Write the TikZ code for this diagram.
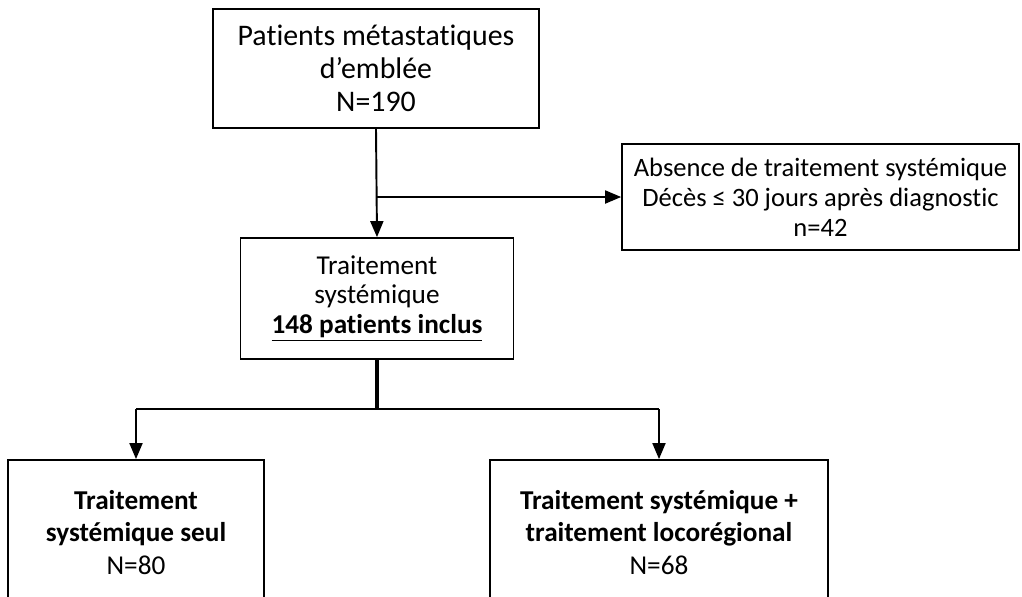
\documentclass[tikz,border=0pt]{standalone}
\usepackage{fontspec}
\setmainfont{Carlito}[Ligatures={NoCommon,NoContextual,NoRare}]
\usetikzlibrary{arrows,positioning}
\tikzset{
    %Define standard arrow tip
    >=triangle 45,
    %Define style for boxes
    flowbox/.style={
             rectangle,
             draw=black, line width=1.1pt,
             align=center,
             inner sep=0pt,
             font=\fontsize{15.5}{17}\selectfont},
    % Define arrow style
    flowarrow/.style={
            ->,
            line width=1.1pt},
    trunkline/.style={
            line width=1.8pt}
}
\begin{document}
\begin{tikzpicture}[x=0.02cm, y=-0.02cm]
 \clip (0,0) rectangle (1022,596);
 \node[flowbox, font=\fontsize{17}{18.6}\selectfont, minimum width=6.52cm, minimum height=2.38cm] (start) at (376,68.5)
      {Patients métastatiques\\d’emblée\\N=190};
 \node[flowbox, font=\fontsize{15.1}{17}\selectfont, minimum width=7.94cm, minimum height=2.12cm] (excl) at (820.5,197)
      {Absence de traitement systémique\\Décès ≤ 30 jours après diagnostic\\n=42};
 \node[flowbox, minimum width=5.46cm, minimum height=2.42cm] (incl) at (377,298.5)
      {Traitement\\systémique\\\textbf{\underline{148 patients inclus}}};
 \node[flowbox, font=\fontsize{15.5}{18.6}\selectfont, anchor=north, minimum width=5.12cm, minimum height=2.9cm] (seul) at (136,459)
      {\textbf{Traitement}\\\textbf{systémique seul}\\N=80};
 \node[flowbox, font=\fontsize{15.5}{18.6}\selectfont, anchor=north, minimum width=6.76cm, minimum height=2.9cm] (loco) at (659,459)
      {\textbf{Traitement systémique +}\\\textbf{traitement locorégional}\\N=68};
 \coordinate (split) at (start.south |- excl.west);
 \coordinate (fork) at (377,409);
 \draw[flowarrow] (start.south) -- (incl.north);
 \draw[flowarrow] (split) -- (excl.west);
 \draw[trunkline] (incl.south) -- (fork);
 \draw[line width=1.1pt] (fork -| seul.north) -- (fork -| loco.north);
 \draw[flowarrow] (fork -| seul.north) -- (seul.north);
 \draw[flowarrow] (fork -| loco.north) -- (loco.north);
\end{tikzpicture}
\end{document}
